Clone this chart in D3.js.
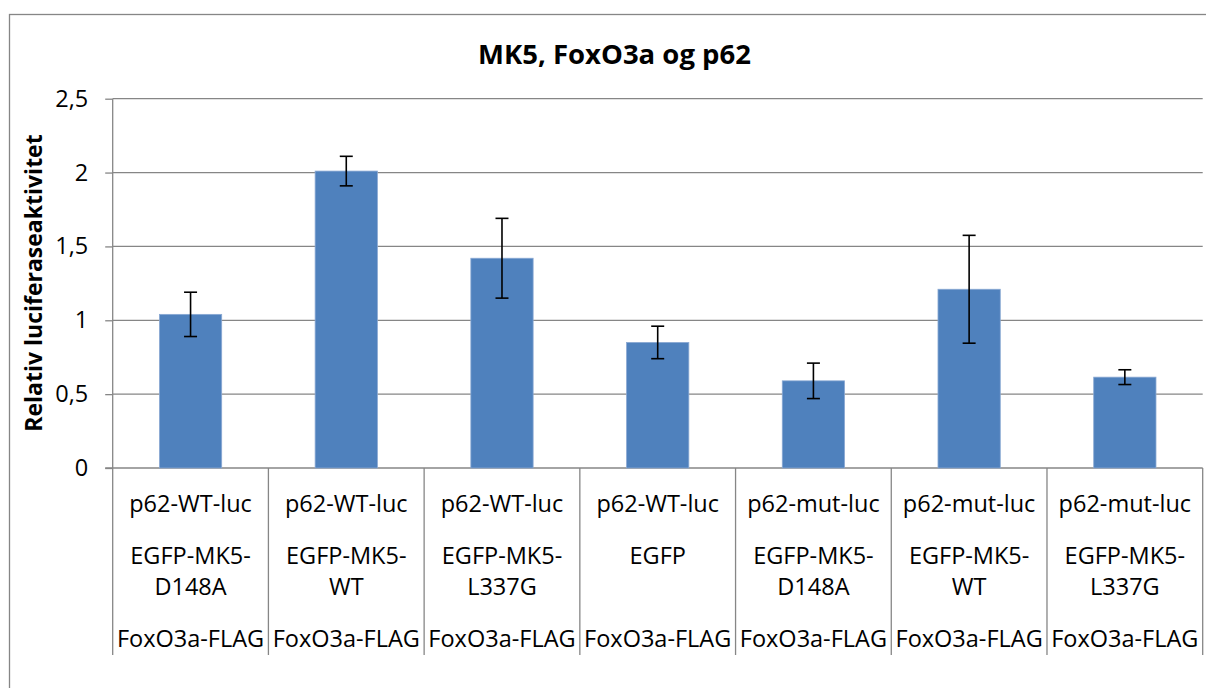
<!DOCTYPE html>
<html>
<head>
<meta charset="utf-8">
<script src="https://cdn.jsdelivr.net/npm/d3@7"></script>
<style>
  html, body { margin: 0; padding: 0; background: #fff; }
  svg { display: block; }
  text { font-family: "Open Sans", "Liberation Sans", sans-serif; fill: #000; }
</style>
</head>
<body>
<svg id="chart" width="1206" height="688"></svg>
<script>
// Luciferase reporter assay: MK5 variants with FoxO3a on the p62 promoter
const reporters = ["p62-WT-luc", "p62-WT-luc", "p62-WT-luc", "p62-WT-luc",
                   "p62-mut-luc", "p62-mut-luc", "p62-mut-luc"];
const kinases = ["EGFP-MK5-D148A", "EGFP-MK5-WT", "EGFP-MK5-L337G", "EGFP",
                 "EGFP-MK5-D148A", "EGFP-MK5-WT", "EGFP-MK5-L337G"];
const cofactors = ["FoxO3a-FLAG", "FoxO3a-FLAG", "FoxO3a-FLAG", "FoxO3a-FLAG",
                   "FoxO3a-FLAG", "FoxO3a-FLAG", "FoxO3a-FLAG"];
const activity = [1.04, 2.01, 1.42, 0.85, 0.59, 1.21, 0.615];
const errors   = [0.15, 0.10, 0.27, 0.11, 0.12, 0.365, 0.05];
const yTicks   = [0, 0.5, 1, 1.5, 2, 2.5];

const titleText = "MK5, FoxO3a og p62";
const yTitle = "Relativ luciferaseaktivitet";

const svg = d3.select("#chart");
const grey = "#868686";
const barColor = "#4F81BD";

const plot = { left: 112.7, right: 1202.7, top: 98.7, bottom: 468, labelBottom: 655 };

const ids = d3.range(activity.length);
const x = d3.scaleBand().domain(ids).range([plot.left, plot.right])
  .paddingInner(0.6).paddingOuter(0.3);
const y = d3.scaleLinear().domain([0, 2.5]).range([plot.bottom, plot.top]);

const no = d3.formatLocale({ decimal: ",", thousands: ".", grouping: [3], currency: ["", " kr"] });
const fmt = no.format("~g");

// chart area frame
svg.append("rect")
  .attr("x", 9.5).attr("y", 14.5)
  .attr("width", 1300).attr("height", 800)
  .attr("fill", "none").attr("stroke", grey).attr("stroke-width", 1.3);

// title
svg.append("text")
  .attr("x", 614.5).attr("y", 64)
  .attr("text-anchor", "middle")
  .style("font-weight", "bold").style("font-size", "27.5px")
  .text(titleText);

// horizontal gridlines
svg.append("g").selectAll("line")
  .data(yTicks.filter(d => d > 0))
  .join("line")
  .attr("x1", plot.left).attr("x2", plot.right)
  .attr("y1", d => y(d)).attr("y2", d => y(d))
  .attr("stroke", grey).attr("stroke-width", 1.3);

// y axis with outside ticks
const yAxis = svg.append("g")
  .attr("transform", `translate(${plot.left},0)`)
  .call(d3.axisLeft(y).tickValues(yTicks).tickFormat(fmt).tickSize(7.5).tickPadding(17));
yAxis.select(".domain").remove();
yAxis.selectAll(".tick line").attr("stroke", grey).attr("stroke-width", 1.3);
yAxis.selectAll(".tick text")
  .style("font-size", "23.5px").style("font-family", "'Open Sans', sans-serif")
  .attr("fill", "#000");

// y axis line, running down through the category label block
svg.append("line")
  .attr("x1", plot.left).attr("x2", plot.left)
  .attr("y1", plot.top).attr("y2", plot.labelBottom)
  .attr("stroke", grey).attr("stroke-width", 1.3);

// x axis line
svg.append("line")
  .attr("x1", plot.left - 7.5).attr("x2", plot.right)
  .attr("y1", plot.bottom).attr("y2", plot.bottom)
  .attr("stroke", grey).attr("stroke-width", 1.3);

// category dividers below the axis
const step = x.step();
const bounds = ids.map(i => x(i) - (step - x.bandwidth()) / 2).concat([plot.right]);
svg.append("g").selectAll("line")
  .data(bounds.slice(1))
  .join("line")
  .attr("x1", d => d).attr("x2", d => d)
  .attr("y1", plot.bottom).attr("y2", plot.labelBottom)
  .attr("stroke", grey).attr("stroke-width", 1.3);

// bars
svg.append("g").selectAll("rect")
  .data(ids)
  .join("rect")
  .attr("x", i => x(i))
  .attr("width", x.bandwidth())
  .attr("y", i => y(activity[i]))
  .attr("height", i => y(0) - y(activity[i]))
  .attr("fill", barColor)
  .attr("stroke", "#8aa9d3").attr("stroke-width", 0.8);

// error bars
const eb = svg.append("g").attr("stroke", "#000").attr("stroke-width", 1.6);
ids.forEach(i => {
  const cx = x(i) + x.bandwidth() / 2;
  const hi = y(activity[i] + errors[i]);
  const lo = y(activity[i] - errors[i]);
  eb.append("line").attr("x1", cx).attr("x2", cx).attr("y1", hi).attr("y2", lo);
  eb.append("line").attr("x1", cx - 6.5).attr("x2", cx + 6.5).attr("y1", hi).attr("y2", hi);
  eb.append("line").attr("x1", cx - 6.5).attr("x2", cx + 6.5).attr("y1", lo).attr("y2", lo);
});

// category labels
const labels = svg.append("g").attr("text-anchor", "middle").style("font-size", "23.5px");
ids.forEach(i => {
  const cx = x(i) + x.bandwidth() / 2;
  labels.append("text").attr("x", cx).attr("y", 512).text(reporters[i]);
  const m = kinases[i].match(/^(EGFP-MK5-)(.+)$/);
  if (m) {
    labels.append("text").attr("x", cx).attr("y", 564).text(m[1]);
    labels.append("text").attr("x", cx).attr("y", 595).text(m[2]);
  } else {
    labels.append("text").attr("x", cx).attr("y", 564).text(kinases[i]);
  }
  labels.append("text").attr("x", cx).attr("y", 647).text(cofactors[i]);
});

// y axis title
svg.append("text")
  .attr("transform", `translate(41.5,283) rotate(-90)`)
  .attr("text-anchor", "middle")
  .style("font-weight", "bold").style("font-size", "23px")
  .text(yTitle);
</script>
</body>
</html>
